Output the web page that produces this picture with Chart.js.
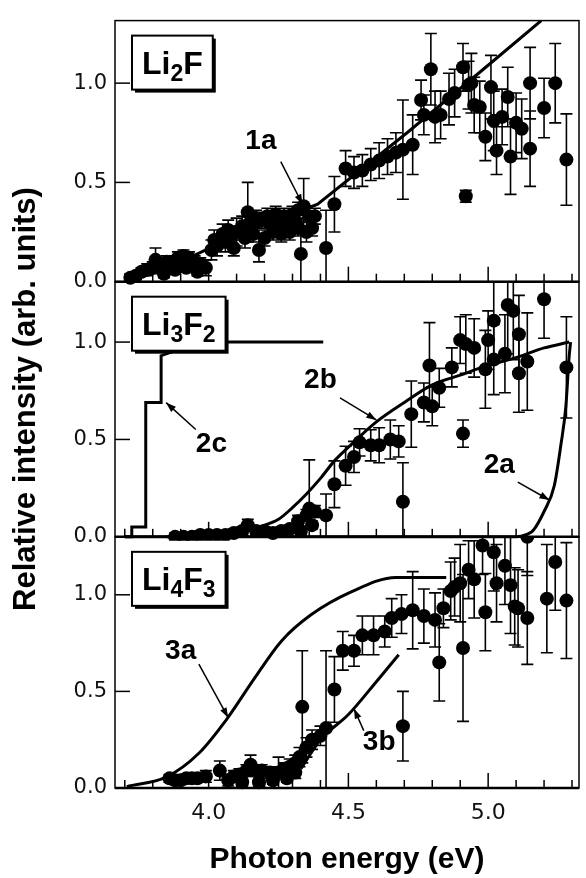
<!DOCTYPE html>
<html>
<head>
<meta charset="utf-8">
<script src="https://cdn.jsdelivr.net/npm/chart.js@4.4.1/dist/chart.umd.min.js"></script>
<style>
  html, body { margin: 0; padding: 0; background: #fff; }
  #wrap { width: 586px; height: 878px; }
</style>
</head>
<body>
<div id="wrap"><canvas id="chart"></canvas></div>
<script>
// --- data ---

// x axis (photon energy, eV)
const xMin = 3.665, xMax = 5.325, xStep = 0.1;
const panelMax = [1.315, 1.31, 1.30];   // Li2F, Li3F2, Li4F3
const panelNames = ['Li2F', 'Li3F2', 'Li4F3'];

// Li2F measured points (x, y, error)
const p1x = [3.72,3.74,3.76,3.78,3.80,3.81,3.83,3.84,3.85,3.87,3.88,3.89,3.91,3.92,3.93,3.95,3.96,3.97,3.99,4.01,4.02,4.03,4.05,4.06,4.07,4.08,4.09,4.10,4.12,4.13,4.14,4.15,4.16,4.17,4.18,4.19,4.20,4.21,4.22,4.23,4.24,4.25,4.26,4.27,4.28,4.29,4.30,4.31,4.32,4.32,4.33,4.34,4.35,4.36,4.37,4.38,4.42,4.45,4.49,4.52,4.55,4.58,4.61,4.64,4.67,4.695,4.73,4.76,4.77,4.795,4.81,4.83,4.86,4.88,4.91,4.92,4.93,4.94,4.95,4.97,4.99,5.01,5.02,5.03,5.05,5.07,5.08,5.10,5.12,5.15,5.15,5.20,5.24,5.28];
const p1y = [0.02,0.03,0.05,0.06,0.07,0.11,0.08,0.04,0.10,0.10,0.06,0.12,0.13,0.07,0.12,0.10,0.05,0.09,0.07,0.16,0.21,0.18,0.24,0.20,0.26,0.23,0.17,0.25,0.28,0.22,0.35,0.30,0.24,0.32,0.16,0.31,0.22,0.33,0.29,0.25,0.34,0.30,0.24,0.33,0.28,0.25,0.34,0.30,0.36,0.27,0.14,0.38,0.25,0.33,0.27,0.33,0.17,0.39,0.57,0.55,0.56,0.59,0.61,0.63,0.65,0.665,0.69,0.915,0.84,1.07,0.83,0.84,0.92,0.95,1.08,0.43,0.99,1.00,0.89,0.88,0.73,0.98,0.81,0.66,0.83,0.93,0.63,0.80,0.77,1.00,0.67,0.875,1.00,0.615];
const p1e = [0.02,0.02,0.02,0.03,0.03,0.06,0.03,0.02,0.03,0.03,0.02,0.03,0.03,0.02,0.03,0.03,0.02,0.03,0.04,0.05,0.05,0.05,0.05,0.05,0.05,0.05,0.04,0.07,0.05,0.05,0.15,0.05,0.04,0.04,0.06,0.04,0.04,0.04,0.04,0.04,0.04,0.04,0.04,0.04,0.04,0.04,0.04,0.05,0.04,0.04,0.14,0.14,0.05,0.05,0.04,0.04,0.19,0.14,0.09,0.08,0.08,0.08,0.09,0.09,0.10,0.25,0.15,0.10,0.10,0.18,0.13,0.12,0.13,0.12,0.12,0.03,0.12,0.15,0.14,0.13,0.12,0.16,0.15,0.12,0.14,0.15,0.19,0.15,0.15,0.18,0.19,0.15,0.20,0.23];
// curve 1a
const c1aX = [3.72,3.90,4.05,4.20,4.30,4.39,4.71,5.00,5.19];
const c1aY = [0.00,0.10,0.20,0.29,0.34,0.39,0.75,1.09,1.315];

// Li3F2 measured points
const p2x = [3.88,3.91,3.94,3.97,4.00,4.03,4.06,4.09,4.12,4.14,4.17,4.20,4.23,4.26,4.29,4.32,4.33,4.35,4.36,4.37,4.38,4.42,4.45,4.49,4.52,4.54,4.58,4.61,4.65,4.68,4.695,4.725,4.77,4.79,4.80,4.825,4.87,4.90,4.91,4.92,4.95,4.99,5.00,5.02,5.02,5.06,5.07,5.09,5.11,5.11,5.14,5.20,5.28];
const p2y = [0.00,0.00,0.00,0.01,0.01,0.01,0.01,0.02,0.03,0.06,0.03,0.03,0.02,0.03,0.04,0.08,0.03,0.11,0.145,0.06,0.13,0.11,0.27,0.365,0.41,0.485,0.47,0.47,0.50,0.49,0.18,0.63,0.69,0.88,0.67,0.765,0.87,1.01,0.53,0.99,0.97,0.86,1.01,1.11,0.91,0.94,1.19,1.16,1.04,0.84,0.90,1.22,0.87];
const p2e = [0.02,0.02,0.02,0.02,0.02,0.02,0.02,0.02,0.02,0.03,0.02,0.02,0.02,0.02,0.02,0.03,0.02,0.03,0.25,0.02,0.03,0.11,0.12,0.10,0.08,0.07,0.08,0.09,0.10,0.08,0.20,0.17,0.10,0.22,0.10,0.10,0.10,0.12,0.07,0.15,0.15,0.20,0.15,0.20,0.18,0.20,0.25,0.25,0.20,0.20,0.25,0.20,0.26];
// curves 2a, 2b, 2c
const c2aX = [3.70,5.08,5.155,5.20,5.237,5.26,5.278,5.29,5.295];
const c2aY = [0.00,0.00,0.025,0.13,0.265,0.47,0.67,0.93,1.00];
const c2bX = [3.85,4.00,4.10,4.20,4.25,4.30,4.35,4.40,4.45,4.50,4.60,4.70,4.80,4.90,5.00,5.10,5.20,5.29];
const c2bY = [0.00,0.01,0.03,0.06,0.09,0.15,0.22,0.30,0.39,0.46,0.59,0.69,0.78,0.83,0.88,0.92,0.97,1.00];
const c2cX = [3.70,3.725,3.725,3.775,3.775,3.83,3.83,3.87,3.90,4.41];
const c2cY = [0.00,0.00,0.05,0.05,0.69,0.69,0.93,0.95,1.00,1.00];

// Li4F3 measured points
const p3x = [3.86,3.88,3.90,3.92,3.94,3.96,3.99,4.04,4.07,4.09,4.11,4.12,4.135,4.15,4.17,4.18,4.19,4.22,4.23,4.25,4.27,4.28,4.29,4.31,4.31,4.325,4.335,4.35,4.37,4.40,4.42,4.45,4.48,4.52,4.55,4.59,4.63,4.655,4.69,4.695,4.73,4.77,4.81,4.825,4.84,4.866,4.88,4.90,4.91,4.93,4.95,4.98,4.99,5.02,5.03,5.06,5.08,5.095,5.107,5.14,5.14,5.21,5.24,5.28];
const p3y = [0.05,0.04,0.04,0.05,0.05,0.05,0.06,0.09,0.04,0.06,0.07,0.03,0.09,0.12,0.09,0.03,0.09,0.08,0.04,0.08,0.10,0.05,0.11,0.13,0.08,0.16,0.42,0.21,0.25,0.27,0.31,0.51,0.71,0.71,0.79,0.79,0.81,0.88,0.90,0.32,0.92,0.89,0.87,0.65,0.93,1.02,1.04,1.06,0.725,1.13,1.08,1.255,0.91,1.22,1.06,1.15,1.05,0.94,0.93,0.88,1.30,0.98,1.17,0.97];
const p3e = [0.02,0.02,0.02,0.02,0.02,0.02,0.03,0.05,0.03,0.03,0.03,0.02,0.03,0.05,0.03,0.02,0.03,0.03,0.02,0.08,0.03,0.02,0.04,0.04,0.03,0.05,0.29,0.05,0.05,0.05,0.40,0.17,0.10,0.08,0.10,0.10,0.08,0.10,0.10,0.18,0.20,0.14,0.14,0.20,0.10,0.15,0.15,0.20,0.38,0.15,0.20,0.15,0.20,0.20,0.20,0.20,0.25,0.20,0.20,0.24,0.20,0.28,0.25,0.30];
// curves 3a, 3b
const c3aX = [3.707,3.85,3.965,4.065,4.165,4.26,4.365,4.51,4.67,4.85];
const c3aY = [0.007,0.058,0.18,0.357,0.57,0.76,0.895,1.015,1.09,1.09];
const c3bX = [4.33,4.40,4.50,4.60,4.68];
const c3bY = [0.10,0.25,0.38,0.55,0.69];

// curve labels with arrows, in data units of each panel
const notes = [
  { axis: 'yA', text: '1a', at: [4.187, 0.705], from: [4.258, 0.605], to: [4.336, 0.39] },
  { axis: 'yB', text: '2b', at: [4.40, 0.806], from: [4.47, 0.714], to: [4.60, 0.60] },
  { axis: 'yB', text: '2c', at: [4.01, 0.474], from: [3.954, 0.551], to: [3.848, 0.689] },
  { axis: 'yB', text: '2a', at: [5.04, 0.367], from: [5.106, 0.281], to: [5.219, 0.189] },
  { axis: 'yC', text: '3a', at: [3.90, 0.708], from: [3.965, 0.641], to: [4.07, 0.364] },
  { axis: 'yC', text: '3b', at: [4.61, 0.236], from: [4.555, 0.297], to: [4.52, 0.41] }
];

// --- helpers ---
const pts = (xs, ys) => xs.map((x, i) => ({ x, y: ys[i] }));
const isMajor = v => Math.abs(v * 2 - Math.round(v * 2)) < 1e-6;
const panelIds = ['yA', 'yB', 'yC'];

const dots = (xs, ys, es, axis) => ({
  data: pts(xs, ys), errs: es, yAxisID: axis,
  pointRadius: 7, pointHoverRadius: 7, pointBackgroundColor: '#000',
  pointBorderWidth: 0, showLine: false, clip: false
});
const curve = (xs, ys, axis, smooth) => ({
  data: pts(xs, ys), yAxisID: axis, showLine: true, pointRadius: 0,
  borderColor: '#000', borderWidth: 3, fill: false, clip: false,
  cubicInterpolationMode: smooth ? 'monotone' : 'default', tension: smooth ? 0.4 : 0
});

// clip every dataset to its own panel (a few px of overflow at the bottom)
const panelClip = {
  id: 'panelClip',
  beforeDatasetDraw(chart, args) {
    const ds = chart.data.datasets[args.index];
    const ys = chart.scales[ds.yAxisID];
    const ca = chart.chartArea;
    chart.ctx.save();
    chart.ctx.beginPath();
    chart.ctx.rect(ca.left, ys.top, ca.right - ca.left, ys.bottom - ys.top + 4);
    chart.ctx.clip();
  },
  afterDatasetDraw(chart) { chart.ctx.restore(); }
};

// vertical error bars with caps
const errorBars = {
  id: 'errorBars',
  beforeDatasetsDraw(chart) {
    const { ctx, chartArea: ca } = chart;
    chart.data.datasets.forEach((ds, i) => {
      if (!ds.errs) return;
      const meta = chart.getDatasetMeta(i);
      const ys = chart.scales[ds.yAxisID];
      ctx.save();
      ctx.beginPath();
      ctx.rect(ca.left, ys.top, ca.right - ca.left, ys.bottom - ys.top);
      ctx.clip();
      ctx.strokeStyle = '#000';
      ctx.lineWidth = 1.6;
      meta.data.forEach((pt, j) => {
        const d = ds.data[j], e = ds.errs[j];
        const yt = ys.getPixelForValue(d.y + e);
        const yb = ys.getPixelForValue(d.y - e);
        ctx.beginPath();
        ctx.moveTo(pt.x, yt); ctx.lineTo(pt.x, yb);
        ctx.moveTo(pt.x - 6, yt); ctx.lineTo(pt.x + 6, yt);
        ctx.moveTo(pt.x - 6, yb); ctx.lineTo(pt.x + 6, yb);
        ctx.stroke();
      });
      ctx.restore();
    });
  }
};

// panel frames and inward ticks
const frame = {
  id: 'frame',
  afterDraw(chart) {
    const { ctx, chartArea: ca, scales } = chart;
    const xs = scales.x;
    ctx.save();
    ctx.strokeStyle = '#000';
    panelIds.forEach(id => {
      const s = scales[id];
      ctx.lineWidth = 1.5;
      ctx.strokeRect(ca.left, s.top, ca.right - ca.left, s.bottom - s.top);
      ctx.lineWidth = 2.5;
      ctx.beginPath(); ctx.moveTo(ca.left, s.bottom); ctx.lineTo(ca.right, s.bottom); ctx.stroke();
      ctx.lineWidth = 1.5;
      s.ticks.forEach(t => {
        const y = s.getPixelForValue(t.value);
        ctx.beginPath(); ctx.moveTo(ca.left, y); ctx.lineTo(ca.left + 15, y); ctx.stroke();
      });
      xs.ticks.forEach(t => {
        const x = xs.getPixelForValue(t.value);
        const len = isMajor(t.value) ? 15 : 8;
        ctx.beginPath(); ctx.moveTo(x, s.bottom); ctx.lineTo(x, s.bottom - len); ctx.stroke();
      });
    });
    ctx.restore();
  }
};

// boxed molecule names, curve labels, y title
const labels = {
  id: 'labels',
  afterDraw(chart) {
    const { ctx, chartArea: ca, scales } = chart;
    ctx.save();
    ctx.fillStyle = '#000';
    ctx.strokeStyle = '#000';

    panelIds.forEach((id, k) => {
      const s = scales[id];
      const name = panelNames[k];
      const big = 'bold 32px "Liberation Sans", Arial, sans-serif';
      const small = 'bold 23px "Liberation Sans", Arial, sans-serif';
      let w = 0;
      for (const ch of name) { ctx.font = /\d/.test(ch) ? small : big; w += ctx.measureText(ch).width; }
      const bx = ca.left + 17, by = s.top + 15, bw = w + 20, bh = 54;
      ctx.fillRect(bx + 3, by + 3, bw, bh);
      ctx.fillStyle = '#fff';
      ctx.fillRect(bx, by, bw, bh);
      ctx.fillStyle = '#000';
      ctx.lineWidth = 2;
      ctx.strokeRect(bx, by, bw, bh);
      let tx = bx + 10;
      const base = by + bh / 2 + 11;
      ctx.textAlign = 'left';
      ctx.textBaseline = 'alphabetic';
      for (const ch of name) {
        const sub = /\d/.test(ch);
        ctx.font = sub ? small : big;
        ctx.fillText(ch, tx, base + (sub ? 7 : 0));
        tx += ctx.measureText(ch).width;
      }
    });

    notes.forEach(n => {
      const ys = scales[n.axis], xs = scales.x;
      ctx.font = 'bold 28px "Liberation Sans", Arial, sans-serif';
      ctx.textAlign = 'center';
      ctx.textBaseline = 'middle';
      ctx.fillText(n.text, xs.getPixelForValue(n.at[0]), ys.getPixelForValue(n.at[1]));
      const x0 = xs.getPixelForValue(n.from[0]), y0 = ys.getPixelForValue(n.from[1]);
      const x1 = xs.getPixelForValue(n.to[0]), y1 = ys.getPixelForValue(n.to[1]);
      ctx.lineWidth = 1.5;
      ctx.beginPath(); ctx.moveTo(x0, y0); ctx.lineTo(x1, y1); ctx.stroke();
      const a = Math.atan2(y1 - y0, x1 - x0);
      ctx.beginPath();
      ctx.moveTo(x1, y1);
      ctx.lineTo(x1 - 10 * Math.cos(a) + 3.5 * Math.sin(a), y1 - 10 * Math.sin(a) - 3.5 * Math.cos(a));
      ctx.lineTo(x1 - 10 * Math.cos(a) - 3.5 * Math.sin(a), y1 - 10 * Math.sin(a) + 3.5 * Math.cos(a));
      ctx.closePath();
      ctx.fill();
    });

    // y title spans all three panels
    ctx.translate(35, 399);
    ctx.rotate(-Math.PI / 2);
    ctx.font = 'bold 31px "Liberation Sans", Arial, sans-serif';
    ctx.textAlign = 'center';
    ctx.textBaseline = 'alphabetic';
    ctx.fillText('Relative intensity (arb. units)', 0, 0);
    ctx.restore();
  }
};

const tickFont = { family: '"DejaVu Sans", sans-serif', size: 21 };
const yAxis = (k) => ({
  type: 'linear', position: 'left', stack: 'panels', stackWeight: [263, 257, 253][k],
  min: 0, max: panelMax[k],
  ticks: { stepSize: 0.5, includeBounds: false, color: '#111', font: tickFont, padding: 8,
           callback: v => v.toFixed(1) },
  grid: { drawOnChartArea: false, drawTicks: false },
  border: { display: false },
  afterFit(s) { s.width = 115; }
});

new Chart(document.getElementById('chart'), {
  type: 'scatter',
  data: {
    datasets: [
      dots(p1x, p1y, p1e, 'yA'),
      curve(c1aX, c1aY, 'yA', false),
      dots(p2x, p2y, p2e, 'yB'),
      curve(c2aX, c2aY, 'yB', true),
      curve(c2bX, c2bY, 'yB', true),
      curve(c2cX, c2cY, 'yB', false),
      dots(p3x, p3y, p3e, 'yC'),
      curve(c3aX, c3aY, 'yC', true),
      curve(c3bX, c3bY, 'yC', true)
    ]
  },
  options: {
    responsive: true,
    maintainAspectRatio: false,
    animation: false,
    layout: { padding: { top: 15, right: 1, left: 0, bottom: 0 } },
    plugins: { legend: { display: false }, tooltip: { enabled: false } },
    scales: {
      x: {
        type: 'linear', position: 'bottom', min: xMin, max: xMax,
        ticks: { stepSize: xStep, includeBounds: false, autoSkip: false, maxRotation: 0,
                 color: '#111', font: { family: '"DejaVu Sans", sans-serif', size: 22 }, padding: 12,
                 callback: v => isMajor(v) ? v.toFixed(1) : '' },
        grid: { drawOnChartArea: false, drawTicks: false },
        border: { display: false },
        title: { display: true, text: 'Photon energy (eV)', color: '#000',
                 font: { family: '"Liberation Sans", Arial, sans-serif', size: 30, weight: 'bold' },
                 padding: { top: 0, bottom: 0 } },
        afterFit(s) { s.height = 90; }
      },
      yC: yAxis(2),
      yB: yAxis(1),
      yA: yAxis(0)
    }
  },
  plugins: [panelClip, errorBars, frame, labels]
});
</script>
</body>
</html>
